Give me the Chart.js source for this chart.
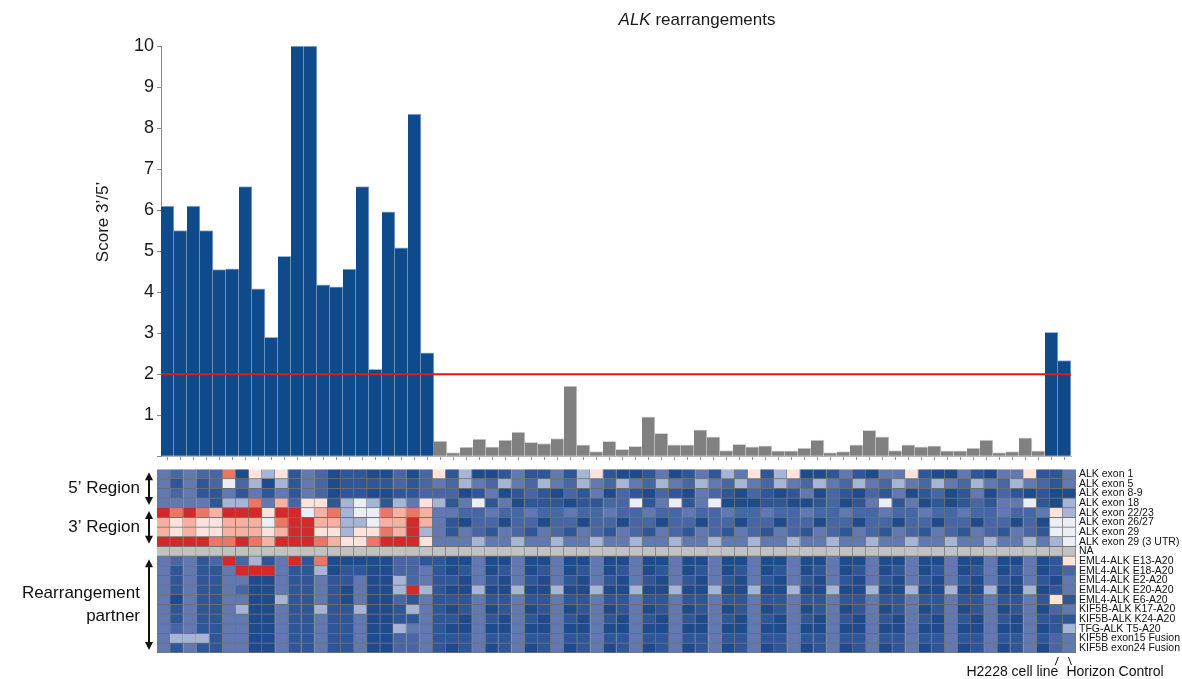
<!DOCTYPE html>
<html>
<head>
<meta charset="utf-8">
<title>ALK rearrangements</title>
<script src="https://cdn.jsdelivr.net/npm/chart.js@4.4.1/dist/chart.umd.min.js"></script>
<style>
  body { margin: 0; background: #fff; }
  #wrap { position: relative; width: 1182px; height: 679px; overflow: hidden; }
  #wrap canvas { position: absolute; left: 0; }
</style>
</head>
<body>
<div id="wrap">
  <canvas id="scoreChart" width="1182" height="470" style="top:0"></canvas>
  <canvas id="heatChart" width="1182" height="219" style="top:460px"></canvas>
</div>

<script>
// ================= DATA =================

// score 3'/5' per sample (70 samples, last two are the controls)
const scores = [
  6.1, 5.5, 6.1, 5.5, 4.55, 4.57, 6.57, 4.08, 2.9, 4.87, 10, 10, 4.18, 4.13, 4.56, 6.57, 2.12, 5.96, 5.08, 8.34, 2.52,
  0.37, 0.09, 0.22, 0.42, 0.23, 0.39, 0.59, 0.34, 0.31, 0.43, 1.71, 0.28, 0.11, 0.36, 0.17, 0.24, 0.96, 0.56, 0.28, 0.28, 0.64, 0.47, 0.14,
  0.29, 0.23, 0.25, 0.13, 0.13, 0.2, 0.39, 0.09, 0.11, 0.28, 0.63, 0.47, 0.14, 0.28, 0.23, 0.25, 0.13, 0.13, 0.2, 0.39, 0.09, 0.11, 0.45, 0.13,
  3.02, 2.33
];
const threshold = 2;
const yTicks = [1, 2, 3, 4, 5, 6, 7, 8, 9, 10];

const rowLabels = [
  "ALK exon 1", "ALK exon 5", "ALK exon 8-9", "ALK exon 18",
  "ALK exon 22/23", "ALK exon 26/27", "ALK exon 29", "ALK exon 29 (3 UTR)",
  "NA",
  "EML4-ALK E13-A20", "EML4-ALK E18-A20", "EML4-ALK E2-A20", "EML4-ALK E20-A20", "EML4-ALK E6-A20",
  "KIF5B-ALK K17-A20", "KIF5B-ALK K24-A20", "TFG-ALK T5-A20", "KIF5B exon15 Fusion", "KIF5B exon24 Fusion"
];

// heat level per cell: 0 = low (dark blue) ... 9 = high (red), n = no data
const heatRows = [
  "3232280646132011002026" + "14001311314610013013143" + "6146001310336100310336113",
  "3131252404132011112123" + "24324324324324324324324" + "3243243243243243243243213",
  "3231131313132011001122" + "20130121021302102103210" + "2101302102130120130210100",
  "3333144837266145414364" + "13513011101122513513500" + "0110012013513010121335104",
  "9898799969957845587873" + "32232232232232232232232" + "2322322322322322322322364",
  "7676677758997744577973" + "10220220220220220220220" + "2202202202202202202202055",
  "7676677767996646687943" + "13213213213213213213213" + "2132132132132132132132155",
  "9999889879998766899963" + "33433433433433433433433" + "4334334334334334334334345",
  "nnnnnnnnnnnnnnnnnnnnnn" + "nnnnnnnnnnnnnnnnnnnnnnn" + "nnnnnnnnnnnnnnnnnnnnnnnnn",
  "3231292413918000002211" + "00300300300300300300300" + "3003003003003003003003016",
  "3131139993114011002231" + "01301301301301301301301" + "3013013013013013013013012",
  "3131133003113113004231" + "10310310310310310310310" + "3103103103103103103103103",
  "3131132003113103004941" + "00400400400400400400400" + "4004004004004004004004013",
  "3031133004113103002131" + "11311311311311311311311" + "3113113113113113113113161",
  "3131134003114114001431" + "01301301301301301301301" + "3013013013013013013013023",
  "3131133003113113001131" + "10310310310310310310310" + "3103103103103103103103111",
  "3231133003113113004331" + "00300300300300300300300" + "3003003003003003003003014",
  "3444133003113113002231" + "11311311311311311311311" + "3113113113113113113113123",
  "3131133003113113002231" + "01301301301301301301301" + "3013013013013013013013023"
];

const regionRows = [[0, 3], [4, 7], [9, 18]];
const regionNames = [["5\u2019 Region"], ["3\u2019 Region"], ["Rearrangement", "partner"]];
const controlNames = ["H2228 cell line", "Horizon Control"];

// ================= STYLE =================

const FONT = '"Liberation Sans", Arial, Helvetica, sans-serif';
Chart.defaults.font.family = FONT;
Chart.defaults.color = "#1a1a1a";

const heatColors = {
  "0": "#1f4b8d", "1": "#2f5797", "2": "#4866a3", "3": "#6179b0", "4": "#a6b4d6",
  "5": "#eceef6", "6": "#fde3dc", "7": "#f6b1a2", "8": "#ea7666", "9": "#d22a2b",
  "n": "#c2c2c2"
};

const sampleLabels = scores.map((_, i) => "S" + (i + 1));

// ================= SCORE CHART =================

const scoreDecor = {
  id: "scoreDecor",
  afterDatasetsDraw(chart) {
    const { ctx, chartArea, scales } = chart;
    const y = scales.y.getPixelForValue(threshold);
    ctx.save();
    ctx.strokeStyle = "#e3191c";
    ctx.lineWidth = 2;
    ctx.beginPath();
    ctx.moveTo(chartArea.left, y);
    ctx.lineTo(chartArea.right, y);
    ctx.stroke();
    ctx.restore();
  },
  afterDraw(chart) {
    const { ctx } = chart;
    ctx.save();
    ctx.fillStyle = "#1a1a1a";
    ctx.textBaseline = "middle";

    // title, gene name in italics
    ctx.font = "italic 17px " + FONT;
    const w1 = ctx.measureText("ALK").width;
    ctx.font = "17px " + FONT;
    const w2 = ctx.measureText(" rearrangements").width;
    const tx = 697 - (w1 + w2) / 2;
    ctx.textAlign = "left";
    ctx.font = "italic 17px " + FONT;
    ctx.fillText("ALK", tx, 20);
    ctx.font = "17px " + FONT;
    ctx.fillText(" rearrangements", tx + w1, 20);

    // y axis title
    ctx.translate(103, 222);
    ctx.rotate(-Math.PI / 2);
    ctx.textAlign = "center";
    ctx.fillText("Score 3\u2019/5\u2019", 0, 0);
    ctx.restore();
  }
};

new Chart(document.getElementById("scoreChart"), {
  type: "bar",
  data: {
    labels: sampleLabels,
    datasets: [{
      data: scores,
      backgroundColor: scores.map(v => v >= threshold ? "#0f4b8a" : "#808080"),
      borderColor: scores.map(v => v >= threshold ? "#9db3d3" : "#d6d6d6"),
      borderWidth: { top: 1, right: 1, left: 0, bottom: 0 },
      barPercentage: 1,
      categoryPercentage: 1
    }]
  },
  options: {
    responsive: false,
    animation: false,
    devicePixelRatio: 1,
    layout: { padding: { left: 0, top: 46, right: 111, bottom: 8 } },
    plugins: { legend: { display: false }, tooltip: { enabled: false } },
    scales: {
      x: {
        ticks: { display: false },
        grid: { drawOnChartArea: false, tickLength: 4, color: "#9a9a9a", offset: false },
        border: { display: true, color: "#b5b5b5" }
      },
      y: {
        min: 0,
        max: 10,
        afterBuildTicks: s => { s.ticks = [0].concat(yTicks).map(v => ({ value: v })); },
        afterFit: s => { s.width = 161; },
        ticks: {
          callback: v => v === 0 ? "" : v,
          font: { size: 18 },
          color: "#1a1a1a",
          padding: 3
        },
        grid: { drawOnChartArea: false, tickLength: 4, color: "#8a8a8a" },
        border: { display: true, color: "#8a8a8a" }
      }
    }
  },
  plugins: [scoreDecor]
});

// ================= HEATMAP =================

const heatDecor = {
  id: "heatDecor",
  afterDraw(chart) {
    const { ctx, chartArea } = chart;
    const y = chart.scales.y;
    const x = chart.scales.x;
    ctx.save();
    ctx.fillStyle = "#111";
    ctx.strokeStyle = "#111";

    regionRows.forEach((rows, i) => {
      const top = y.getPixelForValue(rows[0]) + 3;
      const bot = y.getPixelForValue(rows[1] + 1) - 3;
      const ax = 149;
      ctx.lineWidth = 2;
      ctx.beginPath();
      ctx.moveTo(ax, top + 6);
      ctx.lineTo(ax, bot - 6);
      ctx.stroke();
      ctx.beginPath();
      ctx.moveTo(ax, top); ctx.lineTo(ax - 4, top + 8); ctx.lineTo(ax + 4, top + 8);
      ctx.closePath(); ctx.fill();
      ctx.beginPath();
      ctx.moveTo(ax, bot); ctx.lineTo(ax - 4, bot - 8); ctx.lineTo(ax + 4, bot - 8);
      ctx.closePath(); ctx.fill();

      const lines = regionNames[i];
      const mid = (top + bot) / 2;
      ctx.font = "17px " + FONT;
      ctx.textAlign = "right";
      ctx.textBaseline = "middle";
      lines.forEach((t, k) => {
        ctx.fillText(t, 140, mid + (k - (lines.length - 1) / 2) * 23);
      });
    });

    // control markers under the last two columns
    const n = sampleLabels.length;
    const c1 = x.getPixelForValue(n - 2);
    const c2 = x.getPixelForValue(n - 1);
    const yb = chartArea.bottom;
    ctx.lineWidth = 1;
    ctx.beginPath(); ctx.moveTo(c1 + 2, yb + 4); ctx.lineTo(c1 - 1, yb + 12); ctx.stroke();
    ctx.beginPath(); ctx.moveTo(c2 - 1, yb + 4); ctx.lineTo(c2 + 2, yb + 12); ctx.stroke();
    ctx.font = "14px " + FONT;
    ctx.textBaseline = "middle";
    ctx.textAlign = "right";
    ctx.fillText(controlNames[0], c1 + 2, yb + 19);
    ctx.textAlign = "left";
    ctx.fillText(controlNames[1], c2 - 3, yb + 19);
    ctx.restore();
  }
};

new Chart(document.getElementById("heatChart"), {
  type: "bar",
  data: {
    labels: sampleLabels,
    datasets: heatRows.map((row, r) => ({
      label: rowLabels[r],
      data: row.split("").map(() => 1),
      backgroundColor: row.split("").map(ch => heatColors[ch]),
      borderColor: "rgba(70,70,70,0.75)",
      borderWidth: { top: 0, left: 0, right: 1, bottom: 1 },
      borderSkipped: false,
      barPercentage: 1,
      categoryPercentage: 1
    }))
  },
  options: {
    responsive: false,
    animation: false,
    devicePixelRatio: 1,
    layout: { padding: { left: 157, top: 7, right: 0, bottom: 26 } },
    plugins: { legend: { display: false }, tooltip: { enabled: false } },
    scales: {
      x: { stacked: true, display: false },
      y: { stacked: true, min: 0, max: rowLabels.length, reverse: true, display: false },
      rows: {
        type: "category",
        labels: rowLabels,
        position: "right",
        offset: true,
        afterFit: s => { s.width = 106; },
        grid: { display: false, drawTicks: false, tickLength: 0 },
        border: { display: false },
        ticks: { autoSkip: false, font: { size: 10.5 }, color: "#111", padding: 3 }
      }
    }
  },
  plugins: [heatDecor]
});
</script>
</body>
</html>
